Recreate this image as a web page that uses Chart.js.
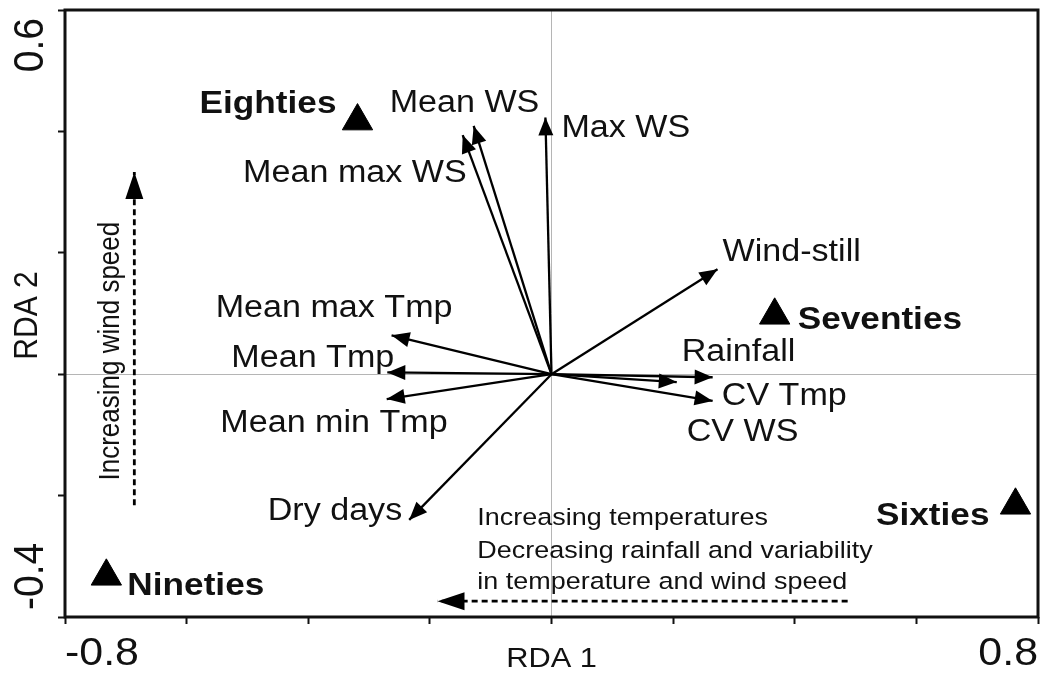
<!DOCTYPE html>
<html>
<head>
<meta charset="utf-8">
<script src="https://cdn.jsdelivr.net/npm/chart.js@4"></script>
<style>
  html, body { margin: 0; padding: 0; background: #fff; }
  #wrap { width: 1040px; height: 673px; }
</style>
</head>
<body>
<div id="wrap"><canvas id="myChart" width="1040" height="673"></canvas></div>
<script>
// environmental variables (biplot arrows)
var arrowNames = ['Mean WS', 'Mean max WS', 'Max WS', 'Wind-still', 'Mean max Tmp', 'Mean Tmp',
                  'Mean min Tmp', 'Rainfall', 'CV Tmp', 'CV WS', 'Dry days'];
var arrowX = [-0.128, -0.146, -0.010, 0.273, -0.263, -0.270, -0.271, 0.265, 0.206, 0.265, -0.234];
var arrowY = [0.409, 0.394, 0.423, 0.173, 0.064, 0.003, -0.041, -0.005, -0.013, -0.044, -0.240];

// decade centroids
var decadeNames = ['Eighties', 'Seventies', 'Sixties', 'Nineties'];
var decadeX = [-0.319, 0.367, 0.763, -0.732];
var decadeY = [0.417, 0.097, -0.216, -0.333];

// axis end labels
var xTickValues = [-0.8, 0.8];
var yTickValues = [-0.4, 0.6];

// label placement (pixel offsets from the point)
var arrowLabelPos = [
    [-84, -14, 'left'], [4, 47, 'right'], [16, 20, 'left'], [5, -8, 'left'],
    [61, -18, 'right'], [7, -5, 'right'], [61, 33, 'right'], [-31, -16, 'left'],
    [45, 23, 'left'], [-26, 40, 'left'], [-7, 0, 'right']
];
var decadeLabelPos = [[-21, -8, 'right'], [23, 14, 'left'], [-26, 20, 'right'], [21, 19, 'left']];

// dashed guide arrows (from, to)
var guideArrows = [
    { x: [0.487, -0.1875], y: [-0.374, -0.374] },
    { x: [-0.686, -0.686], y: [-0.216, 0.333] }
];

var FONT = '"Liberation Sans", Arial, sans-serif';
var SX = 1.1;

function txt(ctx, s, x, y, font, align, rot) {
    ctx.save();
    ctx.translate(x, y);
    ctx.scale(SX, 1);
    if (rot) ctx.rotate(rot);
    ctx.font = font;
    ctx.fillStyle = '#111';
    ctx.textAlign = align;
    ctx.textBaseline = 'alphabetic';
    ctx.fillText(s, 0, 0);
    ctx.restore();
}

function head(ctx, x0, y0, x1, y1, len, half) {
    var a = Math.atan2(y1 - y0, x1 - x0);
    ctx.save();
    ctx.fillStyle = '#000';
    ctx.beginPath();
    ctx.moveTo(x1, y1);
    ctx.lineTo(x1 - len * Math.cos(a) + half * Math.sin(a), y1 - len * Math.sin(a) - half * Math.cos(a));
    ctx.lineTo(x1 - len * Math.cos(a) - half * Math.sin(a), y1 - len * Math.sin(a) + half * Math.cos(a));
    ctx.closePath();
    ctx.fill();
    ctx.restore();
}

var datasets = [];
datasets.push({
    label: 'decades',
    data: decadeX.map(function (x, i) { return { x: x, y: decadeY[i] }; }),
    pointStyle: 'triangle',
    pointRadius: 17.5,
    backgroundColor: '#000',
    borderColor: '#000',
    borderWidth: 1
});
arrowNames.forEach(function (n, i) {
    datasets.push({
        label: n,
        kind: 'arrow',
        data: [{ x: 0, y: 0 }, { x: arrowX[i], y: arrowY[i] }],
        showLine: true,
        borderColor: '#000',
        borderWidth: 2.3,
        pointRadius: 0
    });
});
guideArrows.forEach(function (g, i) {
    datasets.push({
        label: 'guide' + i,
        kind: 'guide',
        data: [{ x: g.x[0], y: g.y[0] }, { x: g.x[1], y: g.y[1] }],
        showLine: true,
        borderColor: '#000',
        borderWidth: 2.8,
        borderDash: [6, 4],
        pointRadius: 0
    });
});

var overlay = {
    id: 'overlay',
    afterDatasetsDraw: function (chart) {
        var ctx = chart.ctx;
        var xs = chart.scales.x, ys = chart.scales.y;
        var area = chart.chartArea;

        chart.data.datasets.forEach(function (ds, i) {
            if (!ds.kind) return;
            var pts = chart.getDatasetMeta(i).data;
            if (ds.kind === 'arrow') head(ctx, pts[0].x, pts[0].y, pts[1].x, pts[1].y, 18, 7.5);
            else head(ctx, pts[0].x, pts[0].y, pts[1].x, pts[1].y, 27, 9);
        });

        // arrow labels
        arrowNames.forEach(function (n, i) {
            var p = arrowLabelPos[i];
            txt(ctx, n, xs.getPixelForValue(arrowX[i]) + p[0], ys.getPixelForValue(arrowY[i]) + p[1],
                '31px ' + FONT, p[2]);
        });
        // decade labels
        decadeNames.forEach(function (n, i) {
            var p = decadeLabelPos[i];
            txt(ctx, n, xs.getPixelForValue(decadeX[i]) + p[0], ys.getPixelForValue(decadeY[i]) + p[1],
                'bold 32px ' + FONT, p[2]);
        });

        // guide texts
        var gx = xs.getPixelForValue(-0.122);
        var gy = ys.getPixelForValue(-0.374);
        txt(ctx, 'Increasing temperatures', gx, gy - 76, '24.5px ' + FONT, 'left');
        txt(ctx, 'Decreasing rainfall and variability', gx, gy - 43, '24.5px ' + FONT, 'left');
        txt(ctx, 'in temperature and wind speed', gx, gy - 12, '24.5px ' + FONT, 'left');
        txt(ctx, 'Increasing wind speed', xs.getPixelForValue(-0.686) - 15,
            ys.getPixelForValue(0.038), '26px ' + FONT, 'center', -Math.PI / 2);

        // frame
        ctx.save();
        ctx.strokeStyle = '#111';
        ctx.lineWidth = 3;
        ctx.strokeRect(area.left, area.top, area.right - area.left, area.bottom - area.top);
        ctx.restore();

        // axis end labels
        xTickValues.forEach(function (v, i) {
            txt(ctx, v.toFixed(1), xs.getPixelForValue(v), 665, '39px ' + FONT, i === 0 ? 'left' : 'right');
        });
        yTickValues.forEach(function (v, i) {
            var py = ys.getPixelForValue(v);
            txt(ctx, v.toFixed(1), 43, i === 0 ? py - 7 : py + 8, '39px ' + FONT, i === 0 ? 'left' : 'right', -Math.PI / 2);
        });
        // axis titles
        txt(ctx, 'RDA 1', (area.left + area.right) / 2, 667, '28px ' + FONT, 'center');
        txt(ctx, 'RDA 2', 37, (area.top + area.bottom) / 2 + 2, '30px ' + FONT, 'center', -Math.PI / 2);
    }
};

function zeroLine(c) {
    return Math.abs(c.tick.value) < 1e-9 ? '#b5b5b5' : 'rgba(0,0,0,0)';
}

var ctx = document.getElementById('myChart').getContext('2d');
var myChart = new Chart(ctx, {
    type: 'scatter',
    data: { datasets: datasets },
    options: {
        responsive: false,
        animation: false,
        layout: { autoPadding: false, padding: { left: 0, right: 2, top: 10, bottom: 0 } },
        plugins: { legend: { display: false }, tooltip: { enabled: false } },
        scales: {
            x: {
                min: -0.8, max: 0.8,
                ticks: { stepSize: 0.2, display: false },
                grid: { color: zeroLine, tickColor: '#111', tickLength: 7, lineWidth: 1, tickWidth: 2 },
                border: { display: false },
                afterFit: function (s) { s.height = 56; }
            },
            y: {
                min: -0.4, max: 0.6,
                ticks: { stepSize: 0.2, display: false },
                grid: { color: zeroLine, tickColor: '#111', tickLength: 7, lineWidth: 1, tickWidth: 2 },
                border: { display: false },
                afterFit: function (s) { s.width = 65; }
            }
        }
    },
    plugins: [overlay]
});
</script>
</body>
</html>
